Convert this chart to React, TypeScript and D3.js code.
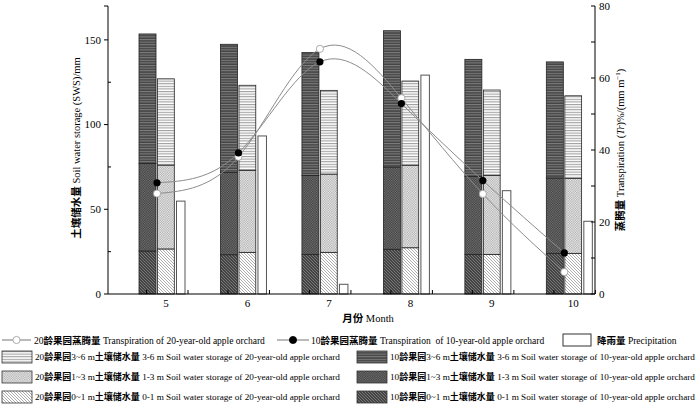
import React, { useEffect, useRef } from 'react';
import * as d3 from 'd3';

// months on the x axis
const months = [5, 6, 7, 8, 9, 10];

// soil water storage (mm), per layer
const sws10Layer01 = [25.4, 23.2, 23.4, 26.4, 23.4, 24.0];
const sws10Layer13 = [51.7, 48.6, 46.6, 48.6, 45.9, 44.5];
const sws10Layer36 = [76.4, 75.6, 72.5, 80.4, 69.2, 68.5];
const sws20Layer01 = [26.6, 24.6, 24.6, 27.3, 23.4, 24.0];
const sws20Layer13 = [49.5, 48.4, 46.2, 48.7, 46.6, 44.3];
const sws20Layer36 = [50.9, 50.2, 49.4, 49.7, 50.4, 48.7];

// precipitation and transpiration (right axis)
const precipitation = [25.8, 43.9, 2.7, 60.8, 28.7, 20.2];
const tr20 = [27.9, 38.1, 68.1, 54.4, 27.8, 6.1];
const tr10 = [30.9, 39.2, 64.5, 52.9, 31.5, 11.4];

const leftTicks = [0, 50, 100, 150];
const leftMinor = [25, 75, 125];
const rightTicks = [0, 20, 40, 60, 80];
const rightMinor = [10, 30, 50, 70];

const SERIF = '"Liberation Serif", "Times New Roman", serif';
const CJK = '"Noto Sans CJK SC", sans-serif';

export default function App() {
  const ref = useRef<SVGSVGElement>(null);

  useEffect(() => {
    if (!ref.current) return;
    const svg = d3.select(ref.current);
    svg.selectAll('*').remove();

    const left = 108, right = 595, top = 6, bottom = 294;

    const x = d3.scaleLinear().domain([4.288, 10.266]).range([left, right]);
    const yL = d3.scaleLinear().domain([0, 170]).range([bottom, top]);
    const yR = d3.scaleLinear().domain([0, 80]).range([bottom, top]);

    // patterns
    const defs = svg.append('defs');
    const stripes = (id: string, bg: string, fg: string) => {
      const p = defs.append('pattern').attr('id', id).attr('patternUnits', 'userSpaceOnUse')
        .attr('width', 6).attr('height', 2.6);
      p.append('rect').attr('width', 6).attr('height', 2.6).attr('fill', bg);
      p.append('line').attr('x1', 0).attr('x2', 6).attr('y1', 0.6).attr('y2', 0.6)
        .attr('stroke', fg).attr('stroke-width', 0.9);
    };
    const checker = (id: string, bg: string, fg: string) => {
      const p = defs.append('pattern').attr('id', id).attr('patternUnits', 'userSpaceOnUse')
        .attr('width', 2.4).attr('height', 2.4);
      p.append('rect').attr('width', 2.4).attr('height', 2.4).attr('fill', bg);
      p.append('rect').attr('width', 1.2).attr('height', 1.2).attr('fill', fg);
      p.append('rect').attr('x', 1.2).attr('y', 1.2).attr('width', 1.2).attr('height', 1.2).attr('fill', fg);
    };
    const diag = (id: string, bg: string, fg: string) => {
      const p = defs.append('pattern').attr('id', id).attr('patternUnits', 'userSpaceOnUse')
        .attr('width', 3).attr('height', 3);
      p.append('rect').attr('width', 3).attr('height', 3).attr('fill', bg);
      p.append('path').attr('d', 'M-1,-1 L4,4 M-1,2 L1,4 M2,-1 L4,1')
        .attr('stroke', fg).attr('stroke-width', 0.7);
    };
    stripes('h20', '#ffffff', '#8a8a8a');
    checker('x20', '#f2f2f2', '#a8a8a8');
    diag('d20', '#ffffff', '#8a8a8a');
    stripes('h10', '#444444', '#8a8a8a');
    checker('x10', '#3a3a3a', '#777777');
    diag('d10', '#444444', '#8c8c8c');

    // bars
    const series = [
      { layers: [sws10Layer01, sws10Layer13, sws10Layer36], fills: ['url(#d10)', 'url(#x10)', 'url(#h10)'], dx0: -27, dx1: -10 },
      { layers: [sws20Layer01, sws20Layer13, sws20Layer36], fills: ['url(#d20)', 'url(#x20)', 'url(#h20)'], dx0: -8.5, dx1: 8.3 },
    ];
    const bars = svg.append('g');
    series.forEach(s => {
      months.forEach((m, i) => {
        let base = 0;
        s.layers.forEach((layer, k) => {
          const v = layer[i];
          bars.append('rect')
            .attr('x', x(m) + s.dx0)
            .attr('width', s.dx1 - s.dx0)
            .attr('y', yL(base + v))
            .attr('height', yL(base) - yL(base + v))
            .attr('fill', s.fills[k])
            .attr('stroke', '#222')
            .attr('stroke-width', 0.8);
          base += v;
        });
      });
    });

    bars.selectAll('.precip')
      .data(precipitation)
      .enter()
      .append('rect')
      .attr('class', 'precip')
      .attr('x', (d, i) => x(months[i]) + 10.5)
      .attr('width', 8.5)
      .attr('y', d => yR(d))
      .attr('height', d => yR(0) - yR(d))
      .attr('fill', '#fff')
      .attr('stroke', '#555')
      .attr('stroke-width', 1);

    // transpiration curves
    const line = d3.line<number>()
      .x((d, i) => x(months[i]) - 9)
      .y(d => yR(d))
      .curve(d3.curveNatural);
    [tr20, tr10].forEach(tr => {
      svg.append('path').attr('d', line(tr) as string)
        .attr('fill', 'none').attr('stroke', '#8c8c8c').attr('stroke-width', 1);
    });
    svg.selectAll('.p20').data(tr20).enter().append('circle')
      .attr('cx', (d, i) => x(months[i]) - 9).attr('cy', d => yR(d)).attr('r', 3.6)
      .attr('fill', '#fff').attr('stroke', '#999').attr('stroke-width', 0.8);
    svg.selectAll('.p10').data(tr10).enter().append('circle')
      .attr('cx', (d, i) => x(months[i]) - 9).attr('cy', d => yR(d)).attr('r', 3.6)
      .attr('fill', '#000');

    // axes
    const ax = svg.append('g').attr('stroke', '#000').attr('stroke-width', 1);
    ax.append('line').attr('x1', left).attr('x2', left).attr('y1', top).attr('y2', bottom);
    ax.append('line').attr('x1', left - 4).attr('x2', left).attr('y1', top).attr('y2', top);
    ax.append('line').attr('x1', right).attr('x2', right).attr('y1', top).attr('y2', bottom);
    ax.append('line').attr('x1', left).attr('x2', right).attr('y1', bottom).attr('y2', bottom);

    leftTicks.forEach(t => {
      ax.append('line').attr('x1', left - 4).attr('x2', left).attr('y1', yL(t)).attr('y2', yL(t));
    });
    leftMinor.forEach(t => {
      ax.append('line').attr('x1', left).attr('x2', left + 3).attr('y1', yL(t)).attr('y2', yL(t));
    });
    [...rightTicks, ...rightMinor].forEach(t => {
      ax.append('line').attr('x1', right - 4).attr('x2', right).attr('y1', yR(t)).attr('y2', yR(t));
    });
    months.forEach(m => {
      [x(m) - 19.5, x(m) + 22].forEach(tx => {
        ax.append('line').attr('x1', tx).attr('x2', tx).attr('y1', bottom).attr('y2', bottom - 4);
      });
    });

    const txt = svg.append('g').attr('font-family', SERIF).attr('font-size', 11).attr('fill', '#000');
    leftTicks.forEach(t => {
      txt.append('text').attr('x', left - 7).attr('y', yL(t)).attr('dy', '0.35em')
        .attr('text-anchor', 'end').text(t);
    });
    rightTicks.forEach(t => {
      txt.append('text').attr('x', right + 4).attr('y', yR(t)).attr('dy', '0.35em').text(t);
    });
    months.forEach(m => {
      txt.append('text').attr('x', x(m)).attr('y', 307).attr('text-anchor', 'middle').text(m);
    });

    // mixed CJK (bold sans) + Latin (serif) text
    const mixedText = (g: any, parts: { t: string; cjk?: boolean; it?: boolean; sup?: boolean; size?: number }[], size: number) => {
      const t = g.append('text').attr('font-size', size).style('white-space', 'pre');
      let raised = false;
      parts.forEach(p => {
        const s = t.append('tspan')
          .attr('font-family', p.cjk ? CJK : SERIF)
          .attr('font-weight', p.cjk ? 'bold' : 'normal')
          .attr('font-size', p.size ?? size)
          .text(p.t);
        if (p.it) s.attr('font-style', 'italic');
        if (p.sup && !raised) { s.attr('dy', -4); raised = true; }
        else if (!p.sup && raised) { s.attr('dy', 4); raised = false; }
      });
      return t;
    };

    // titles
    mixedText(svg, [{ t: '土壤储水量', cjk: true }, { t: ' Soil water storage (SWS)/mm' }], 10.5)
      .attr('text-anchor', 'middle')
      .attr('transform', 'translate(80,148) rotate(-90)');
    mixedText(svg, [
      { t: '蒸腾量', cjk: true }, { t: ' Transpiration (' }, { t: 'Tr', it: true },
      { t: ')%/(mm m' }, { t: '−1', sup: true, size: 7 }, { t: ')' },
    ], 10.5)
      .attr('text-anchor', 'middle')
      .attr('transform', 'translate(624,150) rotate(-90)');
    mixedText(svg, [{ t: '月份', cjk: true }, { t: ' Month' }], 10.5)
      .attr('text-anchor', 'middle')
      .attr('transform', 'translate(368,322)');

    // legend
    const lg = svg.append('g');
    const symLine = (x0: number, x1: number, ly: number, fill: string, stroke: string) => {
      lg.append('line').attr('x1', x0).attr('x2', x1).attr('y1', ly).attr('y2', ly)
        .attr('stroke', '#777').attr('stroke-width', 1);
      lg.append('circle').attr('cx', (x0 + x1) / 2).attr('cy', ly).attr('r', 3.6)
        .attr('fill', fill).attr('stroke', stroke).attr('stroke-width', 0.8);
    };
    symLine(2, 31, 340, '#fff', '#999');
    mixedText(lg, [{ t: '20' }, { t: '龄果园蒸腾量', cjk: true }, { t: ' Transpiration of 20-year-old apple orchard' }], 9.5)
      .attr('transform', 'translate(34,343.5)');
    symLine(277, 309, 340, '#000', '#000');
    mixedText(lg, [{ t: '10' }, { t: '龄果园蒸腾量', cjk: true }, { t: ' Transpiration  of 10-year-old apple orchard' }], 9.5)
      .attr('transform', 'translate(311,343.5)');
    lg.append('rect').attr('x', 563).attr('y', 334).attr('width', 28).attr('height', 12)
      .attr('fill', '#fff').attr('stroke', '#333').attr('stroke-width', 1);
    mixedText(lg, [{ t: '降雨量', cjk: true }, { t: ' Precipitation' }], 9.5)
      .attr('transform', 'translate(597,343.5)');

    const rowsY = [357, 377, 397];
    const layerNames = [['3~6', '3-6'], ['1~3', '1-3'], ['0~1', '0-1']];
    const columns = [
      { age: '20', x0: 2, fills: ['url(#h20)', 'url(#x20)', 'url(#d20)'] },
      { age: '10', x0: 357, fills: ['url(#h10)', 'url(#x10)', 'url(#d10)'] },
    ];
    columns.forEach(c => {
      layerNames.forEach((ln, i) => {
        lg.append('rect').attr('x', c.x0).attr('y', rowsY[i] - 6).attr('width', 30).attr('height', 12)
          .attr('fill', c.fills[i]).attr('stroke', '#333').attr('stroke-width', 0.8);
        mixedText(lg, [
          { t: c.age, size: 9.2 }, { t: '龄果园', cjk: true }, { t: `${ln[0]} m`, size: 9.2 },
          { t: '土壤储水量', cjk: true },
          { t: ` ${ln[1]} m Soil water storage of ${c.age}-year-old apple orchard`, size: 9.2 },
        ], 9)
          .attr('transform', `translate(${c.x0 + 33},${rowsY[i] + 3.2})`);
      });
    });
  }, []);

  return (
    <svg ref={ref} width={700} height={407}
      style={{ position: 'absolute', left: 0, top: 0, background: '#fff' }} />
  );
}
